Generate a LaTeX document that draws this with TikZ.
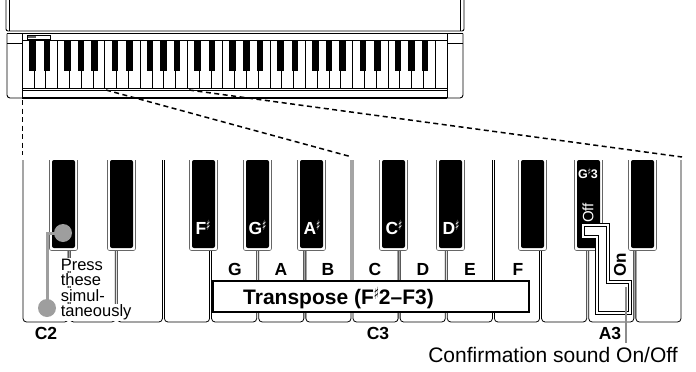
\documentclass[tikz,border=0pt]{standalone}
\usepackage{fontspec}
\usepackage{graphicx}
\setmainfont{Liberation Sans}
\newfontfamily\symf{DejaVu Sans}
\newcommand{\mysharp}{{\symf\mdseries\raisebox{0.22em}{\scalebox{0.5}[0.8]{♯}}}}
\begin{document}
\begin{tikzpicture}[x=1pt,y=-1pt,
  outl/.style={line width=0.9pt},
  skey/.style={line width=0.6pt},
  wkey/.style={draw, line width=0.8pt, rounded corners=3.5pt},
  dashl/.style={line width=1.5pt, dash pattern=on 5pt off 3.5pt},
  wlbl/.style={font=\fontsize{17.5}{20}\selectfont\bfseries, inner sep=0, anchor=base},
  blbl/.style={wlbl, text=white},
  press/.style={font=\fontsize{16.5}{18}\selectfont, fill=white, inner sep=0.6pt, anchor=base west},
  gdot/.style={circle, fill=black!38, minimum size=18pt, inner sep=0},
  gline/.style={draw=black!38, line width=3pt},
]
\useasboundingbox (0,0) rectangle (696,372);

% ---------- small piano ----------
\def\sw{11.806}
\draw[outl, rounded corners=2pt] (6,0) -- (6,31) -- (464,31) -- (464,0);
\draw[outl] (9.5,0) -- (9.5,31);
\draw[outl] (460.5,0) -- (460.5,31);
\draw[outl] (7,33.5) -- (463,33.5);
\draw[outl, rounded corners=3pt] (7,33.5) -- (7,98) -- (22,98);
\draw[outl] (7,43) -- (22,43);
\draw[outl, rounded corners=3pt] (463,33.5) -- (463,98) -- (447,98);
\draw[outl] (447,43) -- (463,43);
\draw[line width=1.4pt] (22,98) -- (447,98);
\draw[outl] (22,33.5) -- (22,98);
\draw[outl] (447,33.5) -- (447,98);
\draw[skey] (22,88) -- (447,88);
\draw[skey] (22,90.5) -- (447,90.5);
\foreach \i in {0,...,35}
  \draw[skey] (22+\i*\sw,40.5) rectangle (22+\i*\sw+\sw,88);
\foreach \o in {0,...,4}
  \foreach \b in {0.6,1.83,3.565,4.725,5.875}
    \fill (22+\o*7*\sw+\b*\sw,40.5) rectangle +(0.55*\sw,30);
\draw[line width=0.5pt] (27,35) rectangle (50,39);
\fill[black!60] (28,35.8) rectangle (36,38.2);

% ---------- dashed guide lines ----------
\coordinate (s1) at (22.5,100);
\coordinate (e1) at (22.5,155);
\coordinate (s2) at (106,90);
\coordinate (e2) at (352,157);
\coordinate (s3) at (189,90);
\coordinate (e3) at (682,157);
\draw[dashl] (s1) -- (e1);
\draw[dashl] (s2) -- (e2);
\draw[dashl] (s3) -- (e3);

% ---------- enlarged keyboard ----------
\def\W{47.143}
\foreach \i in {0,...,13}
  \draw[wkey] (22+\i*\W+1,160) -- (22+\i*\W+1,322) -- (22+\i*\W+\W-1,322) -- (22+\i*\W+\W-1,160);
\foreach \x in {52,110,192,246,300,382,439,521,577,631} {
  \draw[line width=0.6pt, draw=black!60, fill=white, rounded corners=2pt]
    (\x-2.5,160) -- (\x-2.5,250.5) -- (\x+25.5,250.5) -- (\x+25.5,160);
  \fill[rounded corners=2pt] (\x,160) -- (\x,248) -- (\x+23,248) -- (\x+23,160) -- cycle;
}

% black key labels
\node[blbl] (fs) at (203,234) {F\mysharp};
\node[blbl] (gs) at (257.5,234) {G\mysharp};
\node[blbl] (as) at (312,234) {A\mysharp};
\node[blbl] (cs) at (394,234) {C\mysharp};
\node[blbl] (ds) at (451,234) {D\mysharp};
\node[blbl, font=\fontsize{12.5}{14}\selectfont\bfseries] (gs3) at (588,178.5) {G\mysharp3};
\node[text=white, font=\fontsize{15}{17}\selectfont, rotate=90, inner sep=0] (off) at (588,213) {Off};

% white key labels
\node[wlbl] (lg) at (235,275) {G};
\node[wlbl] (la) at (281,275) {A};
\node[wlbl] (lb) at (328,275) {B};
\node[wlbl] (lc) at (375,275) {C};
\node[wlbl] (ld) at (423,275) {D};
\node[wlbl] (le) at (470,275) {E};
\node[wlbl] (lf) at (518,275) {F};

% transpose box
\node[draw, line width=1.6pt, fill=white, minimum width=316pt, minimum height=31pt, inner sep=0] (tbox) at (371,296.5) {};
\node[font=\fontsize{21}{24}\selectfont\bfseries, anchor=base west, inner sep=0] (ttxt) at (243,304) {Transpose (F\mysharp2--F3)};

% octave labels
\node[wlbl] (c2) at (46,339) {C2};
\node[wlbl] (c3) at (378,339) {C3};
\node[wlbl] (a3) at (610,339) {A3};

% press simultaneously
\node[press] (p1) at (60,270) {Press};
\node[press] (p2) at (60,285.5) {these};
\node[press] (p3) at (60,301) {simul-};
\node[press] (p4) at (60,316.5) {taneously};
\node[gdot] (d1) at (63,233) {};
\node[gdot] (d2) at (47,308) {};
\draw[gline] (d1.center) -| (d2.center);

% on/off switch
\draw[line width=1.1pt, double=white, double distance=1.4pt, fill=white]
  (583,225) -- (608,225) -- (608,282) -- (630,282) -- (630,313) -- (597,313) -- (597,237) -- (583,237) -- cycle;
\node[font=\fontsize{17}{19}\selectfont\bfseries, rotate=90, inner sep=0] (on) at (620,265) {On};

% confirmation pointer
\coordinate (ptop) at (626,287);
\node[font=\fontsize{21}{24}\selectfont, anchor=base, inner sep=0] (conf) at (553,362) {Confirmation sound On/Off};
\coordinate (pbot) at (626,343);
\draw[draw=black!45, line width=1.2pt] (ptop) -- (pbot);
\end{tikzpicture}
\end{document}
